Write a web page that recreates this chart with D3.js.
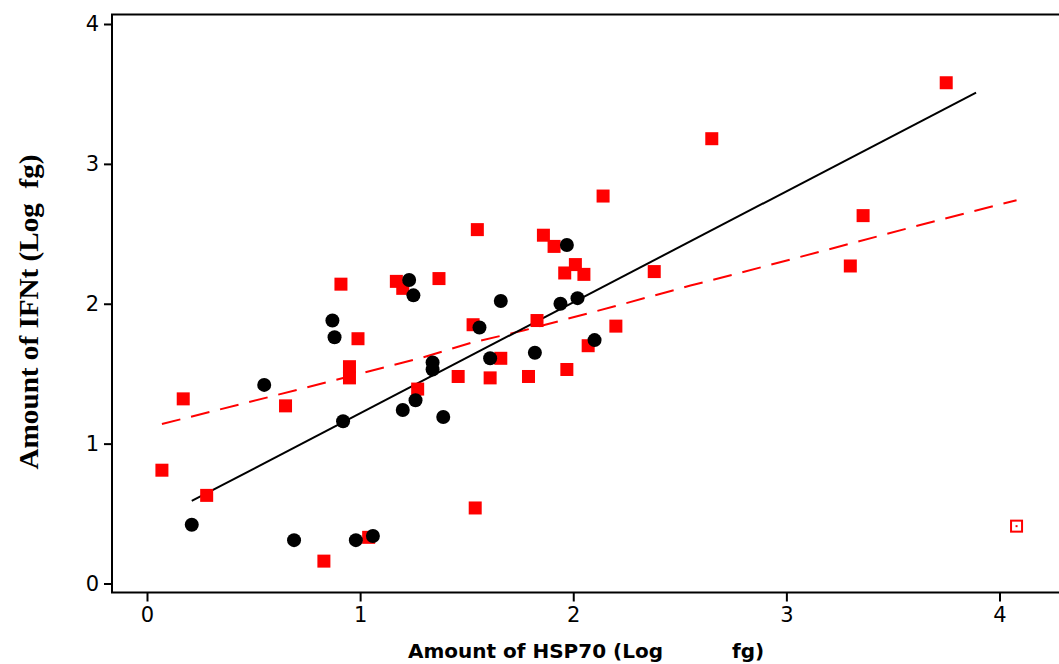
<!DOCTYPE html>
<html>
<head>
<meta charset="utf-8">
<script src="https://cdn.jsdelivr.net/npm/d3@7"></script>
<style>
  body { margin: 0; background: #fff; }
</style>
</head>
<body>
<div class="chart"></div>
<script>
// HSP70 vs IFNt scatter

const width = 1059
const height = 664

// black circles
const blackX = [0.21, 0.55, 0.69, 0.87, 0.88, 0.92, 0.98, 1.06, 1.20, 1.23, 1.25, 1.26, 1.34, 1.34, 1.39, 1.56, 1.61, 1.66, 1.82, 1.94, 1.97, 2.02, 2.10]
const blackY = [0.42, 1.42, 0.31, 1.88, 1.76, 1.16, 0.31, 0.34, 1.24, 2.17, 2.06, 1.31, 1.58, 1.53, 1.19, 1.83, 1.61, 2.02, 1.65, 2.00, 2.42, 2.04, 1.74]

// red squares
const redX = [0.07, 0.17, 0.28, 0.65, 0.83, 0.91, 0.95, 0.95, 0.99, 1.04, 1.17, 1.20, 1.27, 1.37, 1.46, 1.53, 1.54, 1.55, 1.61, 1.66, 1.79, 1.83, 1.86, 1.91, 1.96, 1.97, 2.01, 2.05, 2.07, 2.14, 2.20, 2.38, 2.65, 3.30, 3.36, 3.75]
const redY = [0.81, 1.32, 0.63, 1.27, 0.16, 2.14, 1.55, 1.47, 1.75, 0.33, 2.16, 2.11, 1.39, 2.18, 1.48, 1.85, 0.54, 2.53, 1.47, 1.61, 1.48, 1.88, 2.49, 2.41, 2.22, 1.53, 2.28, 2.21, 1.70, 2.77, 1.84, 2.23, 3.18, 2.27, 2.63, 3.58]

// open red square (outlier)
const openX = [4.08]
const openY = [0.41]

// fitted straight line (black)
const fitX = [0.21, 3.89]
const fitY = [0.59, 3.51]

// smoothed curve (red dashed)
const smoothX = [0.07, 0.59, 1.00, 1.28, 1.52, 1.77, 2.19, 2.55, 2.78, 3.30, 3.72, 4.08]
const smoothY = [1.14, 1.34, 1.50, 1.61, 1.72, 1.81, 1.98, 2.13, 2.22, 2.43, 2.60, 2.74]

const xTicks = [0, 1, 2, 3, 4]
const yTicks = [0, 1, 2, 3, 4]

const svg = d3.select('.chart')
    .append('svg')
    .attr('width', width)
    .attr('height', height)
    .style('font-family', 'Verdana, "DejaVu Sans", sans-serif')

const x = d3.scaleLinear().domain([0, 4]).range([147, 999.5])
const y = d3.scaleLinear().domain([0, 4]).range([583.5, 24])

const frameL = 112, frameT = 14.5, frameB = 592.5, frameR = 1075

// frame
svg.append('path')
    .attr('d', `M${frameR},${frameT}H${frameL}V${frameB}H${frameR}`)
    .attr('fill', 'none')
    .attr('stroke', '#000')
    .attr('stroke-width', 2)

const xAxis = svg.append('g')
    .attr('transform', `translate(0,${frameB})`)
    .call(d3.axisBottom(x).tickValues(xTicks).tickSize(9).tickSizeOuter(0).tickPadding(6).tickFormat(d3.format('d')))
xAxis.select('.domain').remove()

const yAxis = svg.append('g')
    .attr('transform', `translate(${frameL},0)`)
    .call(d3.axisLeft(y).tickValues(yTicks).tickSize(8).tickSizeOuter(0).tickPadding(5).tickFormat(d3.format('d')))
yAxis.select('.domain').remove()

svg.selectAll('.tick line').attr('stroke', '#000').attr('stroke-width', 2)
svg.selectAll('.tick text')
    .attr('font-family', 'Verdana, "DejaVu Sans", sans-serif')
    .attr('font-size', 21)
    .attr('fill', '#000')

// lines
const line = d3.line().x(d => x(d[0])).y(d => y(d[1]))

svg.append('path')
    .datum(d3.zip(smoothX, smoothY))
    .attr('d', line)
    .attr('fill', 'none')
    .attr('stroke', '#ff0000')
    .attr('stroke-width', 2)
    .attr('stroke-dasharray', '19,11')

svg.append('path')
    .datum(d3.zip(fitX, fitY))
    .attr('d', line)
    .attr('fill', 'none')
    .attr('stroke', '#000')
    .attr('stroke-width', 2)

// points
const sq = 13
svg.append('g')
    .selectAll('rect')
    .data(d3.zip(redX, redY))
    .enter().append('rect')
      .attr('x', d => x(d[0]) - sq / 2)
      .attr('y', d => y(d[1]) - sq / 2)
      .attr('width', sq)
      .attr('height', sq)
      .attr('fill', '#ff0000')

svg.append('g')
    .selectAll('circle')
    .data(d3.zip(blackX, blackY))
    .enter().append('circle')
      .attr('cx', d => x(d[0]))
      .attr('cy', d => y(d[1]))
      .attr('r', 7)
      .attr('fill', '#000')

const open = svg.append('g')
    .selectAll('g')
    .data(d3.zip(openX, openY))
    .enter().append('g')
open.append('rect')
    .attr('x', d => x(d[0]) - 5.5)
    .attr('y', d => y(d[1]) - 5.5)
    .attr('width', 11)
    .attr('height', 11)
    .attr('fill', 'none')
    .attr('stroke', '#ff0000')
    .attr('stroke-width', 2)
open.append('rect')
    .attr('x', d => x(d[0]) - 1)
    .attr('y', d => y(d[1]) - 1)
    .attr('width', 2)
    .attr('height', 2)
    .attr('fill', '#ff0000')

// axis titles
const titleFont = 'Verdana, "DejaVu Sans", sans-serif'
svg.append('text')
    .attr('x', 408)
    .attr('y', 658)
    .attr('font-family', titleFont)
    .attr('font-weight', 'bold')
    .attr('font-size', 20)
    .attr('fill', '#000')
    .text('Amount of HSP70 (Log')

svg.append('text')
    .attr('x', 732)
    .attr('y', 658)
    .attr('font-family', titleFont)
    .attr('font-weight', 'bold')
    .attr('font-size', 20)
    .attr('fill', '#000')
    .text('fg)')

svg.append('text')
    .attr('transform', 'translate(38,312) rotate(-90)')
    .attr('text-anchor', 'middle')
    .attr('font-family', '"Liberation Serif", "Times New Roman", serif')
    .attr('font-weight', 'bold')
    .attr('font-size', 28)
    .attr('fill', '#000')
    .attr('textLength', 315)
    .attr('lengthAdjust', 'spacingAndGlyphs')
    .attr('xml:space', 'preserve')
    .style('white-space', 'pre')
    .text('Amount of IFNt (Log  fg)')
</script>
</body>
</html>
